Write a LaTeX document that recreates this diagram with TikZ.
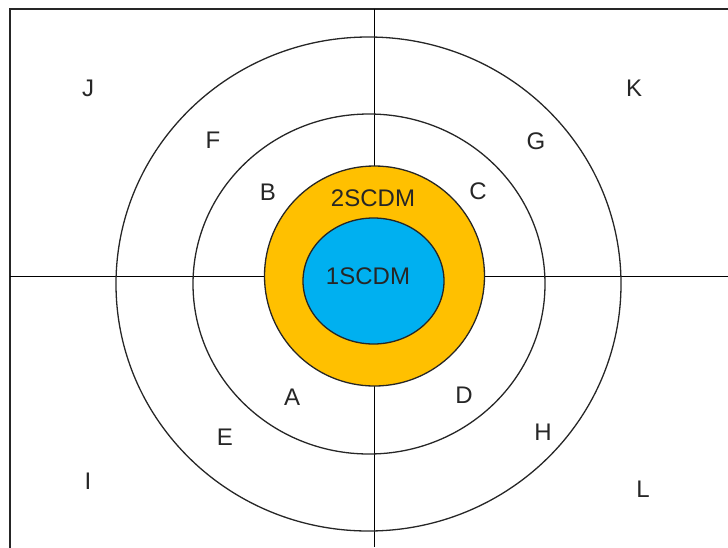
\documentclass[tikz,border=0pt]{standalone}
\usepackage{fontspec}
\setmainfont{Liberation Sans}
\usepackage{tikz}

\definecolor{ringorange}{RGB}{255,192,0}
\definecolor{coreblue}{RGB}{0,176,240}
\definecolor{inkgray}{RGB}{38,38,38}

\begin{document}
\begin{tikzpicture}[x=1pt,y=-1pt,
  lbl/.style={inner sep=0pt,text=inkgray,font=\fontsize{24}{24}\selectfont},
  ring/.style={draw=inkgray,line width=1.3pt}]
\clip (0,0) rectangle (728,547);
\draw[draw=inkgray,line width=2pt] (10,9) rectangle (760,580);
\draw[line width=1pt] (374,9)--(374,547);
\draw[line width=1pt] (10,276)--(728,276);
\draw[ring] (368.5,284) ellipse [x radius=252.5,y radius=247];
\draw[ring] (369,284) ellipse [x radius=176,y radius=170];
\draw[ring,fill=ringorange] (374.5,276) circle [radius=110];
\draw[ring,fill=coreblue] (373.5,281) ellipse [x radius=70.5,y radius=63];
\node[lbl] (J) at (88,88) {J};
\node[lbl] (K) at (634,88) {K};
\node[lbl] (F) at (213,140) {F};
\node[lbl] (G) at (536,141) {G};
\node[lbl] (B) at (268,192) {B};
\node[lbl] (C) at (478,191) {C};
\node[lbl] (two) at (373,198) {2SCDM};
\node[lbl] (one) at (368,276) {1SCDM};
\node[lbl] (A) at (292,397) {A};
\node[lbl] (D) at (464,395) {D};
\node[lbl] (E) at (225,437) {E};
\node[lbl] (H) at (543,432) {H};
\node[lbl] (I) at (88,481) {I};
\node[lbl] (L) at (643,489) {L};
\end{tikzpicture}
\end{document}
